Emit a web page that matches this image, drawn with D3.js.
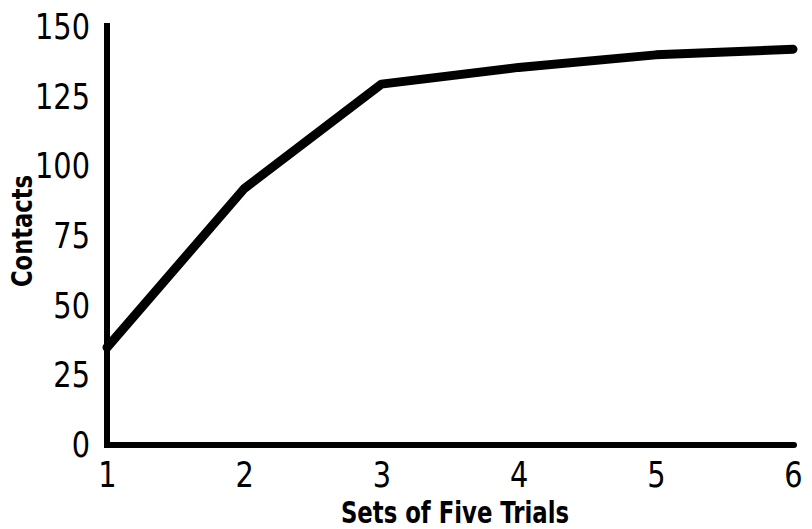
<!DOCTYPE html>
<html>
<head>
<meta charset="utf-8">
<script src="https://cdn.jsdelivr.net/npm/d3@7"></script>
<style>
  body { margin: 0; background: #fff; }
  text { font-family: "DejaVu Sans", sans-serif; fill: #000; }
</style>
</head>
<body>
<div id="chart-area"></div>
<script>
// data
const sets = [1, 2, 3, 4, 5, 6]
const contacts = [35, 92, 129.5, 135.5, 140, 142]
const yTicks = [0, 25, 50, 75, 100, 125, 150]

const W = 812, H = 529
const MARGIN = { LEFT: 107, RIGHT: 19, TOP: 27, BOTTOM: 84 }
const SQUEEZE = 0.8 // the printed lettering is narrow

const svg = d3.select("#chart-area").append("svg")
  .attr("width", W)
  .attr("height", H)

const x = d3.scaleLinear()
  .domain([1, 6])
  .range([MARGIN.LEFT, W - MARGIN.RIGHT])

const y = d3.scaleLinear()
  .domain([0, 150])
  .range([H - MARGIN.BOTTOM, MARGIN.TOP])

// axes
const xAxis = d3.axisBottom(x)
  .tickValues(sets)
  .tickFormat(d3.format("d"))
  .tickSize(0)
  .tickPadding(16)

const yAxis = d3.axisLeft(y)
  .tickValues(yTicks)
  .tickSize(0)
  .tickPadding(17)

const gx = svg.append("g")
  .attr("transform", `translate(0,${y(0)})`)
  .call(xAxis)
gx.select(".domain").remove()
gx.selectAll("text")
  .attr("font-size", 36)
  .attr("font-family", null)
  .attr("transform", `scale(${SQUEEZE},1)`)

const gy = svg.append("g")
  .attr("transform", `translate(${x(1)},0)`)
  .call(yAxis)
gy.select(".domain").remove()
gy.selectAll("text")
  .attr("font-size", 36)
  .attr("font-family", null)
  .attr("x", 0)
  .attr("transform", `translate(-17,0) scale(${SQUEEZE},1)`)

// axis lines, thick like the ink drawing
svg.append("line")
  .attr("x1", x(1)).attr("x2", x(6) + 1)
  .attr("y1", y(0)).attr("y2", y(0))
  .attr("stroke", "#000").attr("stroke-width", 6)
  .attr("stroke-linecap", "round")

svg.append("line")
  .attr("x1", x(1)).attr("x2", x(1))
  .attr("y1", y(0) + 3).attr("y2", y(150) - 4)
  .attr("stroke", "#000").attr("stroke-width", 6)

// the curve
const line = d3.line()
  .x((d, i) => x(sets[i]))
  .y(d => y(d))

svg.append("path")
  .datum(contacts)
  .attr("d", line)
  .attr("fill", "none")
  .attr("stroke", "#000")
  .attr("stroke-width", 9)
  .attr("stroke-linejoin", "round")
  .attr("stroke-linecap", "round")

// axis titles
svg.append("text")
  .attr("transform", `translate(455,523) scale(0.76,1)`)
  .attr("text-anchor", "middle")
  .attr("font-size", 30)
  .attr("font-weight", "bold")
  .text("Sets of Five Trials")

svg.append("text")
  .attr("transform", `translate(32,231) rotate(-90) scale(0.78,1)`)
  .attr("text-anchor", "middle")
  .attr("font-size", 29)
  .attr("font-weight", "bold")
  .text("Contacts")
</script>
</body>
</html>
